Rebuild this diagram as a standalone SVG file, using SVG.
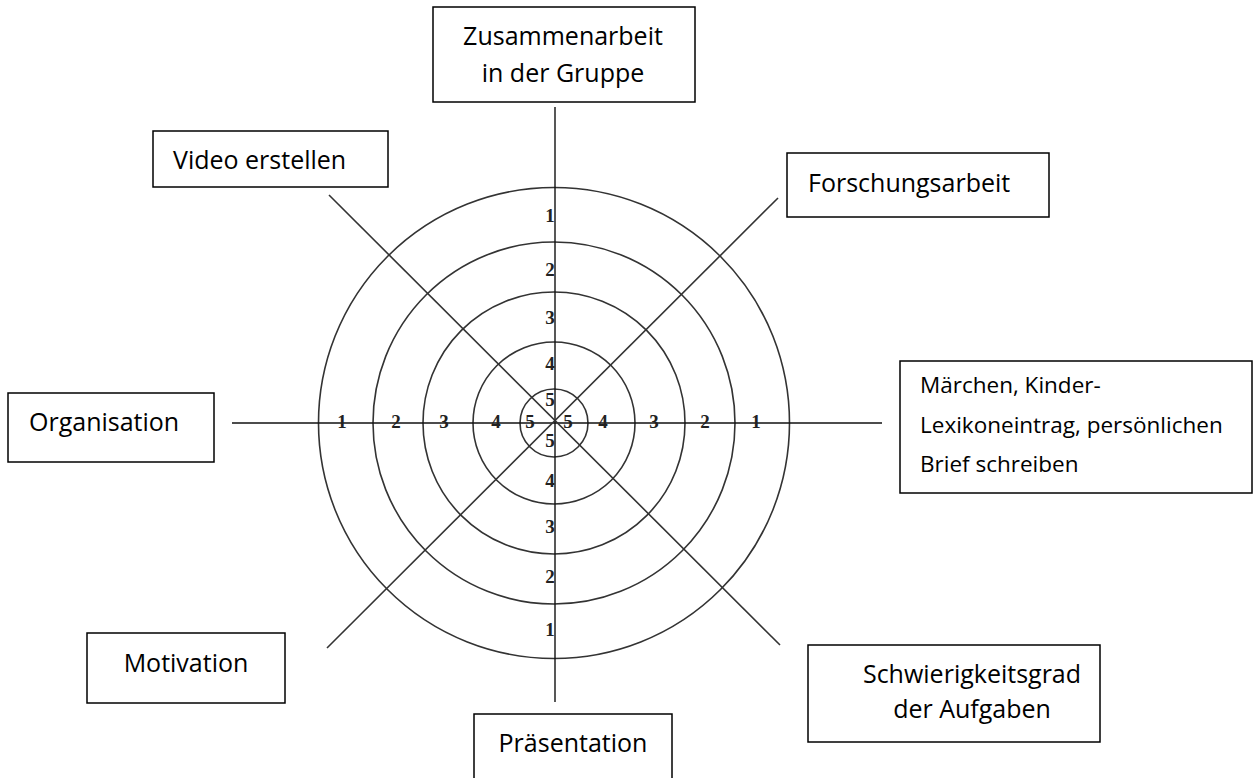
<svg xmlns="http://www.w3.org/2000/svg" width="1258" height="778" viewBox="0 0 1258 778">
<style>
.box{fill:#fff;stroke:#000;stroke-width:1.5}
.lbl{font-family:"Open Sans","Liberation Sans",sans-serif;font-size:25px;fill:#000}
.sm{font-size:22.5px}
.ring{fill:none;stroke:#333;stroke-width:1.6}
.axis{stroke:#111;stroke-width:1.4}
.diag{stroke:#333;stroke-width:1.6}
.num{font-family:"Liberation Serif",serif;font-weight:bold;font-size:19px;fill:#222;text-anchor:middle}
</style>
<rect width="1258" height="778" fill="#fff"/>
<g id="chart">
<circle class="ring" cx="554" cy="423" r="235.5"/>
<circle class="ring" cx="554" cy="423" r="181"/>
<circle class="ring" cx="554" cy="423" r="131"/>
<circle class="ring" cx="554" cy="423" r="81"/>
<circle class="ring" cx="554" cy="423" r="34"/>
</g>
<g id="connectors">
<line class="axis" x1="555" y1="107" x2="555" y2="702"/>
<line class="axis" x1="232" y1="423" x2="882" y2="423"/>
<line class="diag" x1="329" y1="195" x2="780" y2="645"/>
<line class="diag" x1="778" y1="198" x2="327" y2="648"/>
</g>
<g id="scale">
<text class="num" x="342" y="428">1</text>
<text class="num" x="396" y="428">2</text>
<text class="num" x="444" y="428">3</text>
<text class="num" x="496" y="428">4</text>
<text class="num" x="530" y="428">5</text>
<text class="num" x="568" y="428">5</text>
<text class="num" x="603" y="428">4</text>
<text class="num" x="654" y="428">3</text>
<text class="num" x="705" y="428">2</text>
<text class="num" x="756" y="428">1</text>
<text class="num" x="550" y="222">1</text>
<text class="num" x="550" y="276">2</text>
<text class="num" x="550" y="324">3</text>
<text class="num" x="550" y="370">4</text>
<text class="num" x="550" y="406">5</text>
<text class="num" x="550" y="447">5</text>
<text class="num" x="550" y="487">4</text>
<text class="num" x="550" y="533">3</text>
<text class="num" x="550" y="583">2</text>
<text class="num" x="550" y="636">1</text>
</g>
<g id="n-zusammenarbeit">
<rect class="box" x="433" y="7" width="262" height="95"/>
<text class="lbl" x="563" y="45" text-anchor="middle">Zusammenarbeit</text>
<text class="lbl" x="563" y="82" text-anchor="middle">in der Gruppe</text>
</g>
<g id="n-video">
<rect class="box" x="153" y="131" width="235" height="56"/>
<text class="lbl" x="173" y="169">Video erstellen</text>
</g>
<g id="n-forschung">
<rect class="box" x="787" y="153" width="262" height="64"/>
<text class="lbl" x="808" y="192">Forschungsarbeit</text>
</g>
<g id="n-maerchen">
<rect class="box" x="900" y="361" width="352" height="132"/>
<text class="lbl sm" x="920" y="393">Märchen, Kinder-</text>
<text class="lbl sm" x="920" y="433">Lexikoneintrag, persönlichen</text>
<text class="lbl sm" x="920" y="472">Brief schreiben</text>
</g>
<g id="n-organisation">
<rect class="box" x="8" y="393" width="206" height="69"/>
<text class="lbl" x="29" y="431">Organisation</text>
</g>
<g id="n-motivation">
<rect class="box" x="87" y="633" width="198" height="70"/>
<text class="lbl" x="186" y="672" text-anchor="middle">Motivation</text>
</g>
<g id="n-praesentation">
<rect class="box" x="474" y="714" width="198" height="80"/>
<text class="lbl" x="573" y="752" text-anchor="middle">Präsentation</text>
</g>
<g id="n-schwierigkeit">
<rect class="box" x="808" y="645" width="292" height="97"/>
<text class="lbl" x="972" y="683" text-anchor="middle">Schwierigkeitsgrad</text>
<text class="lbl" x="972" y="718" text-anchor="middle">der Aufgaben</text>
</g>
</svg>
